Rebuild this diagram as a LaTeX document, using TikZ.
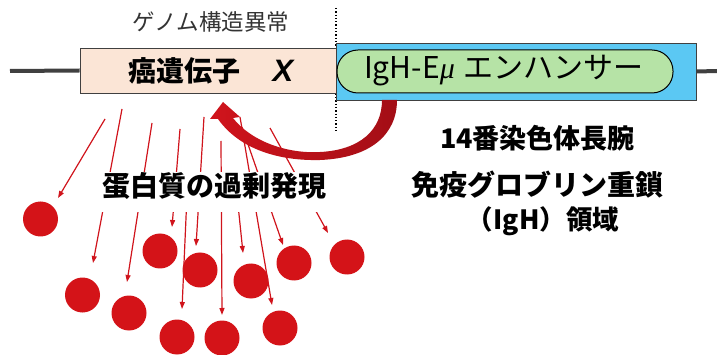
\documentclass[tikz,border=0pt]{standalone}
\usepackage{fontspec}
\usetikzlibrary{arrows.meta}
\newfontfamily\jp{Noto Sans CJK JP}
\newfontfamily\lib{Liberation Sans}
\newfontfamily\libserif{Liberation Serif}
\definecolor{pinkfill}{HTML}{FBE5D6}
\definecolor{bluefill}{HTML}{5BC8F3}
\definecolor{greenfill}{HTML}{B6E3A6}
\definecolor{circred}{HTML}{D41318}
\definecolor{rayred}{HTML}{D0141C}
\definecolor{darkred}{HTML}{A30E16}
\definecolor{linegray}{HTML}{404040}
\tikzset{
  protein/.style={circle, fill=circred, minimum size=35pt, inner sep=0pt},
  ray/.style={draw=rayred, line width=1.2pt, -{Triangle[length=7pt,width=5pt]}},
  bigtext/.style={font=\jp\bfseries\fontsize{28}{32}\selectfont, inner sep=0pt},
}
\begin{document}
\begin{tikzpicture}[x=1pt,y=-1pt]
\useasboundingbox (0,0) rectangle (717,355);
% dotted separator
\coordinate (dtop) at (336,8);
\coordinate (dbot) at (336,133);
\draw[dotted, line width=1.3pt] (dtop) -- (dbot);
% boxes
\node[draw=linegray, line width=0.8pt, fill=pinkfill, minimum width=256pt, minimum height=45pt, inner sep=0pt] (gene) at (208,70.5) {};
\node[draw=linegray, line width=0.8pt, fill=bluefill, minimum width=360pt, minimum height=57pt, inner sep=0pt] (igh) at (516,71.5) {};
\node[draw=black, line width=1pt, fill=greenfill, minimum width=336pt, minimum height=43pt, rounded corners=21pt, inner sep=0pt] (enh) at (505,71.5) {};
\coordinate (lend) at (10,71);
\coordinate (rend) at (717,71);
\draw[linegray, line width=4pt] (lend) -- (gene.west);
\draw[linegray, line width=4pt] (igh.east) -- (rend);
% texts on boxes
\node[font=\jp\fontsize{22.5}{26}\selectfont, text=black!80] (geno) at (211,22) {ゲノム構造異常};
\node[bigtext] (gname) at (184,71) {癌遺伝子};
\node[font=\lib\bfseries\itshape\fontsize{31}{32}\selectfont, inner sep=0pt] (gx) at (283,71) {X};
\node[font=\jp\fontsize{30}{32}\selectfont, inner sep=0pt] (enhtext) at (504,71) {IgH-E{\libserif\itshape μ}\hspace{9pt}エンハンサー};
% proteins
\node[protein] (c1) at (40.5,219) {};
\node[protein] (c2) at (82.5,295) {};
\node[protein] (c3) at (129,313) {};
\node[protein] (c4) at (160,251) {};
\node[protein] (c5) at (200,270) {};
\node[protein] (c6) at (177,337) {};
\node[protein] (c7) at (222,338) {};
\node[protein] (c8) at (251,281) {};
\node[protein] (c9) at (280,328) {};
\node[protein] (c10) at (294,263) {};
\node[protein] (c11) at (347,257) {};
% rays
\coordinate (sa) at (105,119);  \coordinate (ea) at (58,198);
\coordinate (sb) at (122,109);  \coordinate (eb) at (93,263);
\coordinate (sc) at (152,123);  \coordinate (ec) at (127,282);
\coordinate (sd) at (180,129);  \coordinate (ed) at (172,227);
\coordinate (se) at (204,117);  \coordinate (ee) at (196,246);
\coordinate (sm) at (187,195);  \coordinate (em) at (182,309);
\coordinate (sf) at (221,141);  \coordinate (ef) at (222,315);
\coordinate (sg) at (237,195);  \coordinate (eg) at (243,253);
\coordinate (sh) at (240,117);  \coordinate (eh) at (272,305);
\coordinate (sk) at (242,127);  \coordinate (ek) at (283,245);
\coordinate (si) at (270,128);  \coordinate (ei) at (328,233);
\foreach \s/\e in {sa/ea,sb/eb,sc/ec,sd/ed,se/ee,sm/em,sf/ef,sg/eg,sh/eh,sk/ek,si/ei}
  \draw[ray] (\s) -- (\e);
% curved translocation arrow
\shade[left color=rayred, right color=darkred]
  (382,100) .. controls (382,130) and (360,150) .. (320,152)
  .. controls (285,154) and (250,140) .. (233,118)
  -- (240,117) -- (223,102) -- (210,119) -- (218,119)
  .. controls (240,150) and (280,161) .. (320,160)
  .. controls (370,158) and (397,135) .. (397,100) -- cycle;
% overexpression label
\node[bigtext, fill=white, inner xsep=5pt, text height=25pt, text depth=15pt, anchor=base] (over) at (214.5,197) {蛋白質の過剰発現};
% right labels
\node[font=\jp\bfseries\fontsize{27}{30}\selectfont, inner sep=0pt] (chr) at (537.5,138) {14番染色体長腕};
\node[font=\jp\bfseries\fontsize{28}{32}\selectfont, inner sep=0pt] (igl) at (537.5,185) {免疫グロブリン重鎖};
\node[font=\jp\bfseries\fontsize{26.5}{30}\selectfont, inner sep=0pt] (reg) at (543,221) {（IgH）領域};
\end{tikzpicture}
\end{document}
